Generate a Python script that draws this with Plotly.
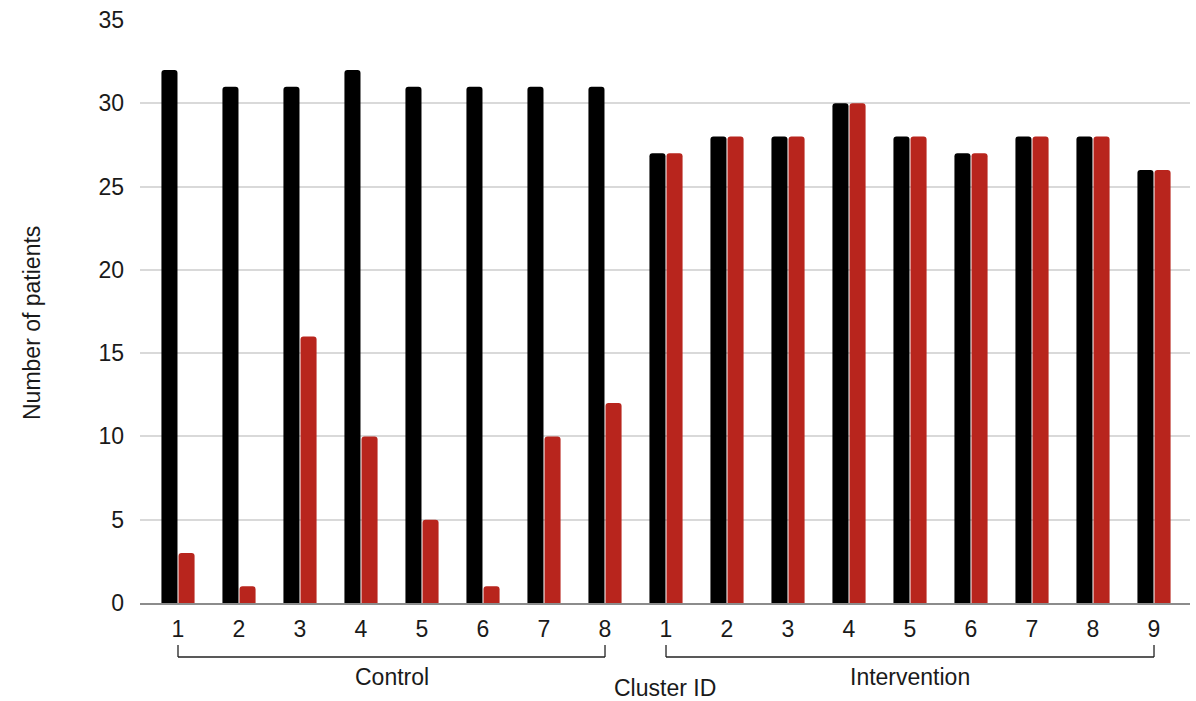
import plotly.graph_objects as go

control_ids = ["1", "2", "3", "4", "5", "6", "7", "8"]
intervention_ids = ["1", "2", "3", "4", "5", "6", "7", "8", "9"]
control_black = [32, 31, 31, 32, 31, 31, 31, 31]
control_red = [3, 1, 16, 10, 5, 1, 10, 12]
intervention_black = [27, 28, 28, 30, 28, 27, 28, 28, 26]
intervention_red = [27, 28, 28, 30, 28, 27, 28, 28, 26]

labels = control_ids + intervention_ids
xpos = list(range(len(labels)))
black_vals = control_black + intervention_black
red_vals = control_red + intervention_red

FONT = "Liberation Sans, Arial, Helvetica, sans-serif"
TXT = "#1a1a1a"

fig = go.Figure()
fig.add_trace(go.Bar(x=xpos, y=black_vals, marker_color="#000000", marker_line_width=0, name="Total"))
fig.add_trace(go.Bar(x=xpos, y=red_vals, marker_color="#b8251d", marker_line_width=0, name="Subset"))

# brackets for groups
groups = [(0, len(control_ids) - 1, "Control"),
          (len(control_ids), len(labels) - 1, "Intervention")]
for x0, x1, name in groups:
    fig.add_shape(type="line", xref="x", yref="paper", x0=x0, x1=x1, y0=-0.0926, y1=-0.0926,
                  line=dict(color="#222222", width=1.3))
    for xx in (x0, x1):
        fig.add_shape(type="line", xref="x", yref="paper", x0=xx, x1=xx, y0=-0.072, y1=-0.0926,
                      line=dict(color="#222222", width=1.3))
    fig.add_annotation(xref="x", yref="paper", x=(x0 + x1) / 2, y=-0.127, text=name,
                       showarrow=False, font=dict(size=23, color=TXT, family=FONT),
                       yanchor="middle")

fig.add_annotation(xref="paper", yref="paper", x=0.5, y=-0.146, text="Cluster ID",
                   showarrow=False, font=dict(size=23, color=TXT, family=FONT),
                   yanchor="middle")

fig.add_annotation(xref="paper", yref="paper", x=-0.103, y=0.48, text="Number of patients",
                   textangle=-90, showarrow=False,
                   font=dict(size=23, color=TXT, family=FONT),
                   xanchor="center", yanchor="middle")

fig.update_layout(
    width=1196, height=701,
    margin=dict(l=140, r=6, t=20, b=98),
    paper_bgcolor="white", plot_bgcolor="white",
    barmode="group", bargap=0.44, bargroupgap=0.06, barcornerradius=3,
    showlegend=False,
    font=dict(family=FONT, color=TXT),
)
fig.update_xaxes(
    tickvals=xpos, ticktext=labels, range=[-0.623, 16.59],
    tickfont=dict(size=23), showgrid=False, ticks="", ticklabelstandoff=5,
    showline=True, linecolor="#8c8c8c", linewidth=1.5,
)
fig.update_yaxes(
    range=[0, 35], dtick=5, tickfont=dict(size=23),
    showgrid=True, gridcolor="#d9d9d9", gridwidth=1.5, zeroline=False,
    ticks="", ticklabelstandoff=15,
)

fig.write_html("out.html", config={"displayModeBar": False},
               post_script="document.body.style.margin='0';document.body.style.overflow='hidden';")
